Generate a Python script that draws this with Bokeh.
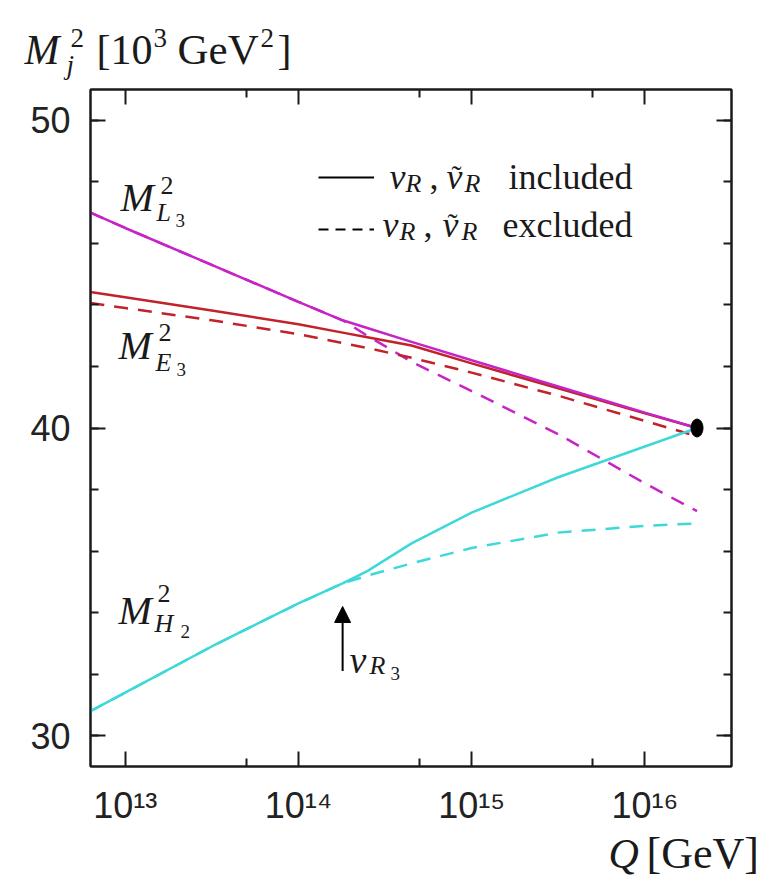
from bokeh.plotting import figure
from bokeh.layouts import column
from bokeh.models import (Range1d, FixedTicker, LinearAxis, LogAxis, Label,
                          Arrow, NormalHead, Legend, LegendItem)
from bokeh.embed import file_html
from bokeh.resources import INLINE

NAN = float("nan")

# ---------------- data ----------------
q_gev = [6.3e12, 1.0e13, 3.16e13, 1.0e14, 1.8e14, 2.5e14, 4.5e14,
         1.0e15, 3.16e15, 1.0e16, 2.0e16]

mL3_incl = [47.0, 46.5, 45.3, 44.1, 43.5, 43.25, 42.8, 42.2, 41.35, 40.5, 40.0]
mL3_excl = [47.0, 46.5, 45.3, 44.1, 43.5, 43.0, 42.15, 41.2, 39.8, 38.2, 37.3]
mE3_incl = [44.42, 44.25, 43.82, 43.37, 43.1, 42.95, 42.68, 42.1, 41.29, 40.48, 40.0]
mE3_excl = [44.06, 43.9, 43.5, 43.05, 42.76, 42.6, 42.28, 41.8, 41.05, 40.23, 39.73]
mH2_incl = [30.8, 31.4, 32.9, 34.3, 34.95, 35.35, 36.25, 37.25, 38.4, 39.4, 40.0]
mH2_excl = [30.8, 31.4, 32.9, 34.3, 34.95, 35.2, 35.6, 36.1, 36.6, 36.82, 36.9]

gut_q = [2.0e16]
gut_m2 = [40.0]

nuR3_q = 1.8e14
nuR3_arrow_m2 = [32.1, 34.2]

x_major = [1e13, 1e14, 1e15, 1e16]
x_minor = [5e13, 5e14, 5e15]
x_labels = ["10\u00b9\u00b3", "10\u00b9\u2074", "10\u00b9\u2075", "10\u00b9\u2076"]
y_major = [30, 40, 50]
y_minor = [30, 32, 34, 36, 38, 40, 42, 44, 46, 48, 50]

# ---------------- styling ----------------
MAG = "#c624c6"
RED = "#c2222a"
CYA = "#3ed8d8"
INK = "#1a1a1a"
LW = 2.5
DASH = "14 10"
SERIF = "Liberation Serif"
BASE_SHIFT = 0.34               # label anchor -> glyph baseline correction (em)

W = 768
FRAME_L, FRAME_B = 90, 767      # frame left / bottom on the page
TOP_H = 87                      # strip above the chart (y-axis title)
BOT_Y0, BOT_Y1 = 828, 880       # strip below the chart (x-axis title)


def no_align(f):
    if "frame_align" in f.properties():
        f.frame_align = False
    return f


def text_strip(y0, y1):
    f = figure(width=W, height=y1 - y0, x_range=Range1d(0, W), y_range=Range1d(y1, y0),
               output_backend="svg", toolbar_location=None,
               x_axis_location=None, y_axis_location=None,
               min_border=0, min_border_left=0, min_border_right=0,
               min_border_top=0, min_border_bottom=0, outline_line_color=None)
    f.grid.visible = False
    return no_align(f)


def put(fig, pieces, screen=False):
    for txt, ax_, ay_, size, fstyle, align in pieces:
        ay_ = ay_ - BASE_SHIFT * size
        if screen:
            kw = dict(x=ax_ - FRAME_L, y=FRAME_B - ay_, x_units="screen", y_units="screen")
        else:
            kw = dict(x=ax_, y=ay_)
        fig.add_layout(Label(text=txt, text_font=SERIF, text_font_size=f"{size}px",
                             text_font_style=fstyle, text_align=align,
                             text_baseline="alphabetic", text_color=INK, **kw))


# ---------------- top strip: y-axis title ----------------
tfig = text_strip(0, TOP_H)
put(tfig, [
    ("M", 24, 64, 42, "italic", "left"),
    ("2", 70, 47, 27, "normal", "left"),
    ("j", 66, 74, 27, "italic", "left"),
    ("[10", 96, 64, 42, "normal", "left"),
    ("3", 153, 47, 27, "normal", "left"),
    ("GeV", 177, 64, 43, "normal", "left"),
    ("2", 260, 47, 27, "normal", "left"),
    ("]", 277, 64, 42, "normal", "left"),
])

# ---------------- main chart ----------------
fig = figure(width=W, height=BOT_Y0 - TOP_H, x_axis_type="log",
             x_range=Range1d(10 ** 12.8, 10 ** 16.5), y_range=Range1d(29, 51),
             output_backend="svg", toolbar_location=None,
             min_border_left=FRAME_L, min_border_right=W - 731,
             min_border_top=89 - TOP_H, min_border_bottom=BOT_Y0 - FRAME_B)
no_align(fig)
fig.grid.visible = False
fig.outline_line_color = INK
fig.outline_line_width = 2
fig.background_fill_color = "white"
fig.border_fill_color = "white"


def style_axis(ax, labels=True, standoff=20):
    ax.axis_line_color = INK
    ax.axis_line_width = 2
    ax.major_tick_in = 15
    ax.major_tick_out = 0
    ax.minor_tick_in = 8
    ax.minor_tick_out = 0
    ax.major_tick_line_color = INK
    ax.minor_tick_line_color = INK
    ax.major_tick_line_width = 2
    ax.minor_tick_line_width = 2
    ax.major_label_text_font = "Liberation Sans"
    ax.major_label_text_color = "#222222"
    if labels:
        ax.major_label_text_font_size = "36px"
        ax.major_label_standoff = standoff
    else:
        ax.major_label_text_font_size = "0px"
        ax.major_label_standoff = 0


xa = fig.xaxis[0]
xa.ticker = FixedTicker(ticks=x_major, minor_ticks=x_minor)
style_axis(xa, standoff=18)
xa.major_label_overrides = {t: s for t, s in zip(x_major, x_labels)}

ya = fig.yaxis[0]
ya.ticker = FixedTicker(ticks=y_major, minor_ticks=y_minor)
style_axis(ya)

top = LogAxis(ticker=FixedTicker(ticks=x_major, minor_ticks=x_minor))
style_axis(top, labels=False)
top.major_label_overrides = {t: "" for t in x_major}
fig.add_layout(top, "above")

right = LinearAxis(ticker=FixedTicker(ticks=y_major, minor_ticks=y_minor))
style_axis(right, labels=False)
right.major_label_overrides = {t: "" for t in y_major}
fig.add_layout(right, "right")

# curves: dashed = nu_R excluded, solid = nu_R included
fig.line(q_gev, mL3_excl, line_color=MAG, line_width=LW, line_dash=DASH)
fig.line(q_gev, mE3_excl, line_color=RED, line_width=LW, line_dash=DASH)
fig.line(q_gev, mH2_excl, line_color=CYA, line_width=LW, line_dash=DASH)
fig.line(q_gev, mE3_incl, line_color=RED, line_width=LW)
fig.line(q_gev, mL3_incl, line_color=MAG, line_width=LW)
fig.line(q_gev, mH2_incl, line_color=CYA, line_width=LW)

fig.ellipse(x=gut_q, y=gut_m2, width=12, height=18, width_units="screen",
            height_units="screen", fill_color="black", line_color="black")

fig.add_layout(Arrow(end=NormalHead(size=16, fill_color="black", line_color="black"),
                     x_start=nuR3_q, y_start=nuR3_arrow_m2[0],
                     x_end=nuR3_q, y_end=nuR3_arrow_m2[1],
                     line_color="black", line_width=2))

# legend samples (renderers carry no visible data)
leg_solid = fig.line([NAN], [NAN], line_color="black", line_width=2)
leg_dash = fig.line([NAN], [NAN], line_color="black", line_width=2, line_dash="10 7")
legend = Legend(items=[LegendItem(label=" ", renderers=[leg_solid]),
                       LegendItem(label=" ", renderers=[leg_dash])],
                location=(228, 524), orientation="vertical",
                glyph_width=56, glyph_height=26, spacing=26,
                padding=0, margin=0, label_standoff=0,
                label_width=0, label_height=0, label_text_font_size="1px",
                background_fill_alpha=0, border_line_alpha=0)
fig.add_layout(legend)

put(fig, [
    # curve labels
    ("M", 120, 212, 40, "italic", "left"),
    ("2", 160, 195, 26, "normal", "left"),
    ("L", 156, 222, 26, "italic", "left"),
    ("3", 175, 227, 19, "normal", "left"),
    ("M", 118, 360, 40, "italic", "left"),
    ("2", 158, 342, 26, "normal", "left"),
    ("E", 155, 372, 26, "italic", "left"),
    ("3", 176, 376, 19, "normal", "left"),
    ("M", 118, 625, 40, "italic", "left"),
    ("2", 157, 603, 26, "normal", "left"),
    ("H", 154, 633, 26, "italic", "left"),
    ("2", 180, 638, 19, "normal", "left"),
    # threshold label
    ("\u03bd", 349, 673, 38, "italic", "left"),
    ("R", 369, 675, 26, "italic", "left"),
    ("3", 390, 680, 19, "normal", "left"),
    # legend texts
    ("\u03bd", 389, 190, 36, "italic", "left"),
    ("R", 405, 193, 26, "italic", "left"),
    (",", 429, 190, 36, "normal", "left"),
    ("\u03bd", 446, 190, 36, "italic", "left"),
    ("\u02dc", 451, 186, 30, "normal", "left"),
    ("R", 464, 193, 26, "italic", "left"),
    ("included", 632, 190, 36, "normal", "right"),
    ("\u03bd", 382, 238, 36, "italic", "left"),
    ("R", 399, 241, 26, "italic", "left"),
    (",", 423, 238, 36, "normal", "left"),
    ("\u03bd", 442, 238, 36, "italic", "left"),
    ("\u02dc", 447, 234, 30, "normal", "left"),
    ("R", 461, 241, 26, "italic", "left"),
    ("excluded", 632, 238, 36, "normal", "right"),
], screen=True)

# ---------------- bottom strip: x-axis title ----------------
bfig = text_strip(BOT_Y0, BOT_Y1)
put(bfig, [
    ("Q", 608, 868, 42, "italic", "left"),
    ("[GeV]", 646, 868, 44, "normal", "left"),
])

p = column(tfig, fig, bfig, spacing=0)

open("out.html", "w").write(file_html(p, INLINE))
